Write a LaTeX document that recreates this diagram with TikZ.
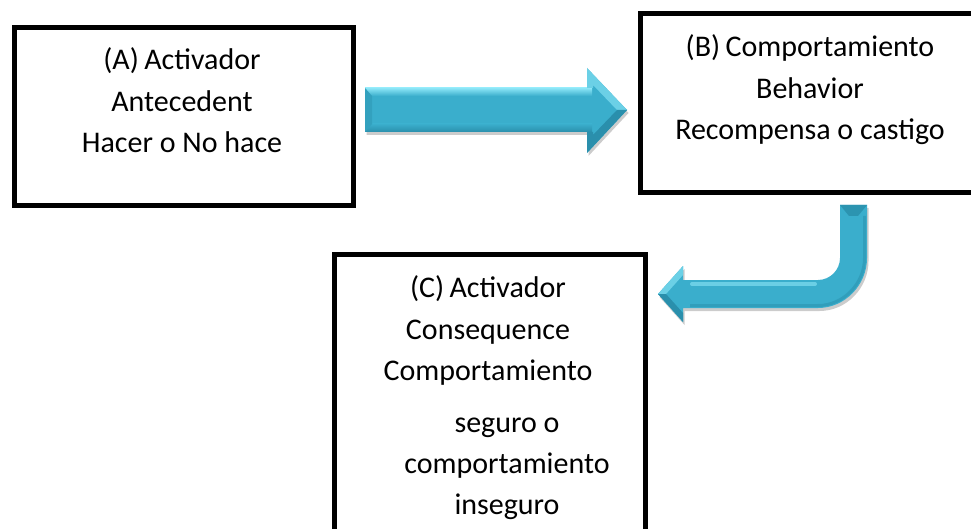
\documentclass[tikz,border=0pt]{standalone}
\usepackage{fontspec}
\setmainfont{Carlito}
\definecolor{arrmain}{HTML}{3AAECC}
\definecolor{arrlight}{HTML}{8CE6F7}
\definecolor{arrdark}{HTML}{23829E}
\def\ArrowOnePath{(365,88) -- (587,88) -- (587,68) -- (627,110) -- (587,153) -- (587,132) -- (365,132) -- cycle}
\def\ArrowTwoPath{(840,205) -- (867,205) -- (867,258) .. controls (867,285) and (845,308) .. (818,308) -- (683,308) -- (683,322) -- (658,294) -- (683,266) -- (683,280) -- (818,280) .. controls (830,280) and (840,270) .. (840,258) -- cycle}
\begin{document}
\begin{tikzpicture}[x=1pt,y=-1pt,
  box/.style={draw=black, line width=5pt, rectangle, inner sep=0pt, fill=white},
  lbl/.style={font=\fontsize{30}{36}\selectfont, anchor=base, inner sep=0pt, text=black},
  arrbody/.style={fill=arrmain},
  arrshadow/.style={fill=black, opacity=0.2},
]
\useasboundingbox (0,0) rectangle (971,529);
\clip (0,0) rectangle (971,529);
\fill[white] (0,0) rectangle (971,529);

% boxes
\node[box, minimum width=339pt, minimum height=178pt] (boxA) at (184,116.5) {};
\node[box, minimum width=344pt, minimum height=179pt] (boxB) at (812.5,103) {};
\node[box, minimum width=311pt, minimum height=292pt] (boxC) at (490,400.5) {};

% texts
\node[lbl] (a1) at (182,70) {(A)\hspace{0.18em}Activador};
\node[lbl] (a2) at (182,111.5) {Antecedent};
\node[lbl] (a3) at (182,153) {Hacer o No hace};

\node[lbl] (b1) at (810,57) {(B)\hspace{0.18em}Comportamiento};
\node[lbl] (b2) at (810,98.5) {Behavior};
\node[lbl] (b3) at (810,140) {Recompensa o castigo};

\node[lbl] (c1) at (488,297) {(C)\hspace{0.18em}Activador};
\node[lbl] (c2) at (488,339) {Consequence};
\node[lbl] (c3) at (488,380) {Comportamiento};
\node[lbl] (c4) at (507,432) {seguro o};
\node[lbl] (c5) at (507,473) {comportamiento};
\node[lbl] (c6) at (507,514) {inseguro};

% arrow A -> B
\fill[arrshadow, xshift=1.5pt, yshift=-3pt] \ArrowOnePath;
\fill[arrbody] \ArrowOnePath;
\shade[top color=arrlight, bottom color=arrmain] (365,88) rectangle (592,96);
\shade[top color=arrmain, bottom color=arrdark!70!arrmain] (365,124) rectangle (592,132);
\fill[arrdark!30!arrmain] (365,88) -- (372,96) -- (372,124) -- (365,132) -- cycle;
\fill[arrlight!60!arrmain] (587,68) -- (627,110) -- (617,110) -- (593,85) -- (593,88) -- (587,88) -- cycle;
\fill[arrdark!70!arrmain] (587,153) -- (627,110) -- (617,110) -- (593,135) -- (593,132) -- (587,132) -- cycle;

% arrow B -> C
\fill[arrshadow, xshift=1.5pt, yshift=-3pt] \ArrowTwoPath;
\fill[arrbody] \ArrowTwoPath;
\fill[arrdark!60!arrmain] (840,205) -- (867,205) -- (858,216) -- (849,216) -- cycle;
\draw[arrlight, line width=4pt, opacity=0.6, line cap=round] (692,284) -- (815,284);
\draw[arrdark, line width=3pt, opacity=0.35] (690,305.5) -- (818,305.5) .. controls (843,305.5) and (864.5,284) .. (864.5,258) -- (864.5,216);
\fill[arrlight!60!arrmain] (683,266) -- (658,294) -- (666,294) -- (683,275) -- cycle;
\fill[arrdark!70!arrmain] (683,322) -- (658,294) -- (666,294) -- (683,313) -- cycle;
\end{tikzpicture}
\end{document}
